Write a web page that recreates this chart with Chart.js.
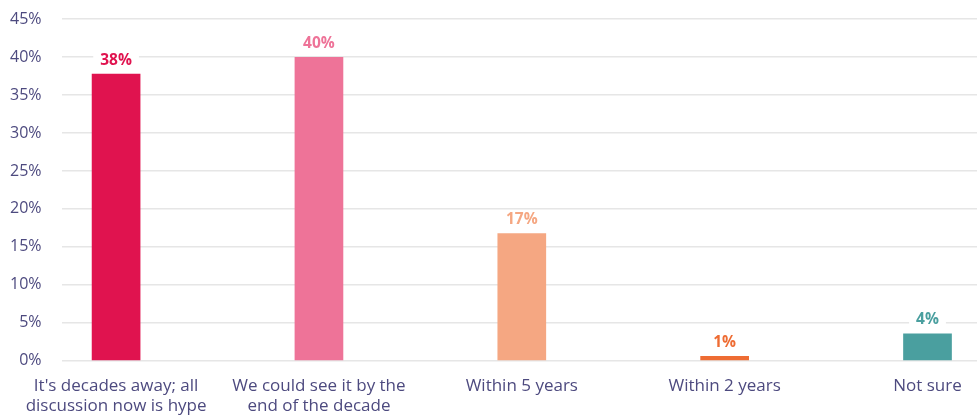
<!DOCTYPE html>
<html>
<head>
<meta charset="utf-8">
<script src="https://cdn.jsdelivr.net/npm/chart.js@4.4.1/dist/chart.umd.min.js"></script>
<style>
  html, body { margin: 0; padding: 0; background: #fff; }
  #wrap { width: 977px; height: 416px; }
</style>
</head>
<body>
<div id="wrap"><canvas id="chart"></canvas></div>
<script>
// survey answers, percent of respondents
const categories = [
    ["It's decades away; all", "discussion now is hype"],
    ["We could see it by the", "end of the decade"],
    ["Within 5 years"],
    ["Within 2 years"],
    ["Not sure"]
];
const values = [37.8, 40, 16.8, 0.65, 3.6];
const barColors = ['#e0134f', '#ee7398', '#f5a782', '#ee6c33', '#4a9f9f'];
const yTicks = [0, 5, 10, 15, 20, 25, 30, 35, 40, 45];

const textColor = '#4d4a7f';
const fontFamily = "'Open Sans', sans-serif";

// value labels above bars, white box behind so the grid line is hidden
const barLabels = {
    id: 'barLabels',
    afterDatasetsDraw(chart) {
        const ctx = chart.ctx;
        const meta = chart.getDatasetMeta(0);
        ctx.save();
        ctx.font = "bold 15.5px " + fontFamily;
        ctx.textAlign = 'center';
        ctx.textBaseline = 'middle';
        meta.data.forEach((bar, i) => {
            const txt = Math.round(values[i]) + '%';
            const y = bar.y - 13.5;
            const w = ctx.measureText(txt).width + 14;
            ctx.fillStyle = '#fff';
            ctx.fillRect(bar.x - w / 2, y - 9, w, 18);
            ctx.fillStyle = barColors[i];
            ctx.fillText(txt, bar.x, y);
        });
        ctx.restore();
    }
};

new Chart(document.getElementById('chart'), {
    type: 'bar',
    data: {
        datasets: [{
            data: values.map((v, i) => ({ x: i, y: v })),
            backgroundColor: barColors,
            borderWidth: 0,
            barPercentage: 0.24,
            categoryPercentage: 1
        }]
    },
    options: {
        responsive: true,
        maintainAspectRatio: false,
        animation: false,
        layout: { padding: { top: 19, left: 10, right: 0, bottom: 0 } },
        plugins: {
            legend: { display: false },
            tooltip: { enabled: false }
        },
        scales: {
            x: {
                type: 'linear',
                offset: false,
                min: -0.269,
                max: 4.244,
                grid: { display: false, drawTicks: false },
                border: { display: false },
                afterBuildTicks: axis => {
                    axis.ticks = categories.map((c, i) => ({ value: i }));
                },
                // let the first label hang left of the plot like the original,
                // and only count tick padding once
                afterFit: axis => {
                    axis.paddingLeft = 0;
                    axis.paddingRight = 0;
                    axis.height -= axis.options.ticks.padding;
                },
                ticks: {
                    autoSkip: false,
                    maxRotation: 0,
                    padding: 15,
                    color: textColor,
                    font: { family: fontFamily, size: 17, lineHeight: 1.18 },
                    callback: v => categories[v]
                }
            },
            y: {
                min: 0,
                max: 45,
                afterBuildTicks: axis => {
                    axis.ticks = yTicks.map(v => ({ value: v }));
                },
                afterFit: axis => {
                    axis.paddingTop = 0;
                    axis.paddingBottom = 0;
                    axis.width -= axis.options.ticks.padding;
                },
                grid: { color: '#e6e6e6', lineWidth: 1.5, drawTicks: false },
                border: { display: false },
                ticks: {
                    padding: 20,
                    color: textColor,
                    font: { family: fontFamily, size: 16 },
                    callback: v => v + '%'
                }
            }
        }
    },
    plugins: [barLabels]
});
</script>
</body>
</html>
